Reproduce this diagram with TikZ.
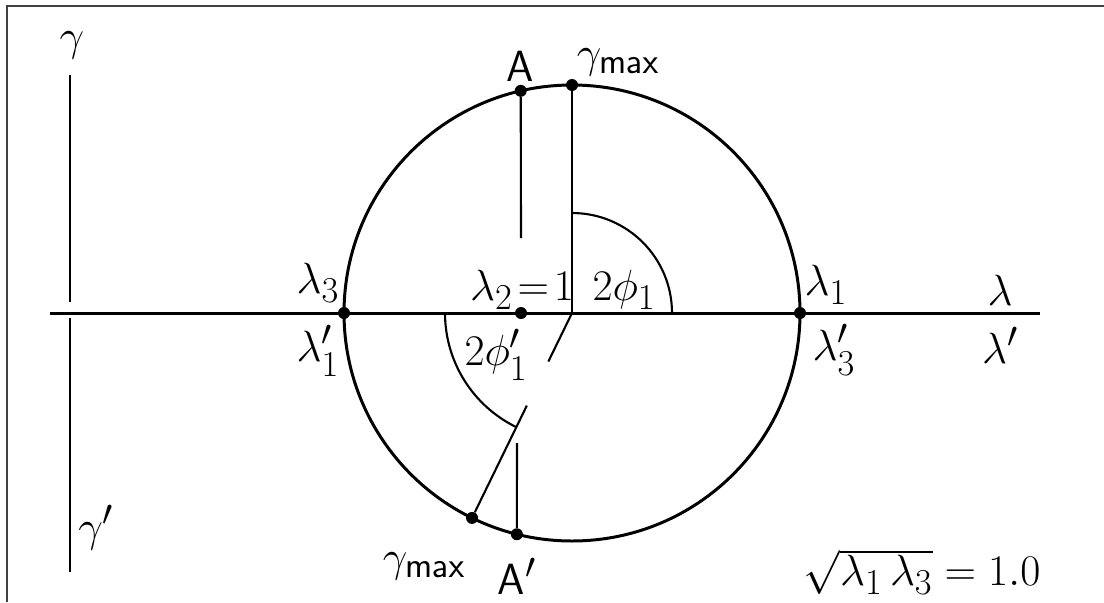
\documentclass[tikz,border=0pt]{standalone}
\usepackage{amsmath}
\usepackage{tikz}
\usetikzlibrary{calc}

\begin{document}
\begin{tikzpicture}[x=0.02cm, y=0.02cm,
    lbl/.style={font=\Huge, inner sep=1pt},
    dot/.style={circle, fill, inner sep=0pt, minimum size=0.24cm},
    heavy/.style={line width=1.7pt},
    light/.style={line width=1.2pt}]

    \useasboundingbox (0,-602) rectangle (1104,0);

    % Rahmen (oben und links)
    \draw[line width=1pt, black!75] (7,-602) -- (7,-6) -- (1104,-6);

    % Achsen
    \coordinate (xl) at (50,-313);
    \coordinate (xr) at (1040,-313);
    \coordinate (yt) at (70,-75);
    \coordinate (ym) at (70,-302);
    \coordinate (yn) at (70,-318);
    \coordinate (yb) at (70,-572);
    \draw[heavy] (xl) -- (xr);
    \draw[heavy] (yt) -- (ym);
    \draw[heavy] (yn) -- (yb);

    % Mohrscher Kreis
    \coordinate (O) at (572,-313);
    \draw[heavy] (O) circle (228);

    % Punkte auf dem Kreis
    \foreach \nm/\ang in {L3/180, L1/0, Gtop/90, A/103, Gbot/244, Abot/256} {
        \node[dot] (\nm) at ($(O)+(\ang:228)$) {};
    }
    \node[dot] (L2) at (521,-313) {};

    % Senkrechte von A und A'
    \coordinate (Aend) at (521,-238);
    \coordinate (Abend) at (517,-443);
    \draw[light] (A) -- (Aend);
    \draw[light] (Abot) -- (Abend);

    % Linien zu gamma_max
    \draw[light] (Gtop) -- (O);
    \coordinate (G1) at ($(O)+(244:103)$);
    \coordinate (G2) at ($(O)+(244:54)$);
    \draw[light] (Gbot) -- (G1);
    \draw[light] (G2) -- (O);

    % Winkelboegen
    \draw[light] ($(O)+(0:100)$) arc (0:90:100);
    \draw[light] ($(O)+(180:127)$) arc (180:244:127);

    % Beschriftungen oben
    \node[lbl] (gam) at (72,-45) {$\gamma$};
    \node[lbl] (labA) at (520,-66) {\sffamily A};
    \node[lbl] (gmax) at (618,-62) {$\gamma_{\mathsf{max}}$};
    \node[lbl] (lam3) at (318,-283) {$\lambda_3$};
    \node[lbl] (lam2) at (522,-290) {$\lambda_2\!=\!1$};
    \node[lbl] (phi) at (624,-290) {$2\phi_1$};
    \node[lbl] (lam1) at (826,-285) {$\lambda_1$};
    \node[lbl] (lam) at (1000,-290) {$\lambda$};

    % Beschriftungen unten
    \node[lbl] (lam1b) at (318,-351) {$\lambda_1'$};
    \node[lbl] (phib) at (496,-355) {$2\phi_1'$};
    \node[lbl] (lam3b) at (834,-350) {$\lambda_3'$};
    \node[lbl] (lamb) at (1000,-345) {$\lambda'$};
    \node[lbl] (gamb) at (96,-528) {$\gamma'$};
    \node[lbl] (gmaxb) at (424,-566) {$\gamma_{\mathsf{max}}$};
    \node[lbl] (labAb) at (517,-576) {\sffamily A$'$};
    \node[lbl] (root) at (922,-572) {$\sqrt{\lambda_1\,\lambda_3}=1.0$};

\end{tikzpicture}
\end{document}
